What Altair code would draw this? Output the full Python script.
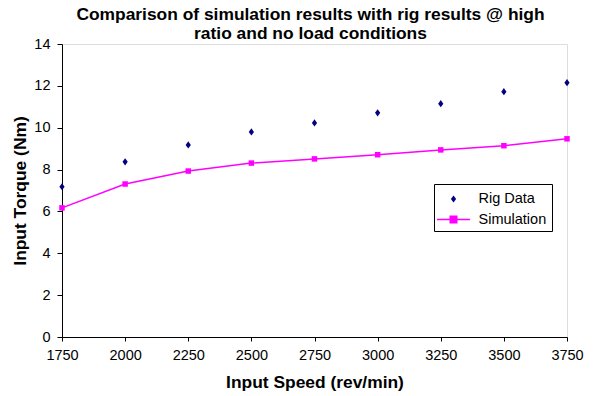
import altair as alt
import pandas as pd

speeds = [1750, 2000, 2250, 2500, 2750, 3000, 3250, 3500, 3750]
rig_torque = [7.18, 8.37, 9.18, 9.80, 10.23, 10.71, 11.15, 11.72, 12.15]
sim_torque = [6.17, 7.31, 7.93, 8.31, 8.51, 8.71, 8.94, 9.14, 9.47]
series_names = ["Rig Data", "Simulation"]
x_ticks = [1750, 2000, 2250, 2500, 2750, 3000, 3250, 3500, 3750]
y_ticks = [0, 2, 4, 6, 8, 10, 12, 14]

rows = []
for s, v in zip(speeds, rig_torque):
    rows.append({"speed": s, "torque": v, "series": series_names[0]})
for s, v in zip(speeds, sim_torque):
    rows.append({"speed": s, "torque": v, "series": series_names[1]})
df = pd.DataFrame(rows)

FONT = "Liberation Sans"
diamond_path = "M0,-0.36L0.26,0L0,0.36L-0.26,0Z"
sim_path = "M-1.65,-0.075H1.65V0.075H-1.65Z M-0.4,-0.4H0.4V0.4H-0.4Z"

legend = alt.Legend(
    title=None,
    orient="none",
    legendX=372,
    legendY=140,
    strokeColor="black",
    fillColor="white",
    padding=5,
    rowPadding=3.5,
    symbolSize=400,
    symbolOffset=4.5,
    symbolStrokeWidth=0,
    symbolOpacity=1,
    labelOffset=15,
    labelFont=FONT,
    labelFontSize=14.5,
    labelColor="black",
)

color_scale = alt.Scale(domain=series_names, range=["#000080", "#FF00FF"])
shape_scale = alt.Scale(domain=series_names, range=[diamond_path, sim_path])

axis_common = dict(
    grid=False,
    labelFlush=False,
    domainColor="black",
    tickColor="black",
    labelColor="black",
    titleColor="black",
    labelFont=FONT,
    labelFontSize=14.5,
    titleFont=FONT,
    titleFontSize=17.4,
    titleFontWeight="bold",
)

base = alt.Chart(df).encode(
    x=alt.X(
        "speed:Q",
        scale=alt.Scale(domain=[1750, 3750], nice=False, zero=False),
        axis=alt.Axis(
            values=x_ticks,
            title="Input Speed (rev/min)",
            tickSize=4,
            labelPadding=7,
            titlePadding=12,
            format="d",
            **axis_common,
        ),
    ),
    y=alt.Y(
        "torque:Q",
        scale=alt.Scale(domain=[0, 14], nice=False),
        axis=alt.Axis(
            values=y_ticks,
            title="Input Torque (Nm)",
            tickSize=5,
            labelPadding=7,
            titlePadding=4,
            **axis_common,
        ),
    ),
    color=alt.Color("series:N", scale=color_scale, legend=legend),
)

rig_layer = base.transform_filter(alt.datum.series == "Rig Data").mark_point(
    filled=True, size=400, opacity=1
).encode(shape=alt.Shape("series:N", scale=shape_scale, legend=legend))

sim_line = base.transform_filter(alt.datum.series == "Simulation").mark_line(
    strokeWidth=1.5
)
sim_pts = base.transform_filter(alt.datum.series == "Simulation").mark_point(
    filled=True, shape="square", size=30, opacity=1
)

chart = (
    alt.layer(rig_layer, sim_line, sim_pts)
    .properties(
        width=505,
        height=293,
        autosize=alt.AutoSizeParams(type="none"),
        padding={"left": 62, "top": 44, "right": 27, "bottom": 59},
        title=alt.Title(
            ["Comparison of simulation results with rig results @ high",
             "ratio and no load conditions"],
            font=FONT,
            fontSize=17.4,
            fontWeight="bold",
            color="black",
            offset=1,
            dx=-4,
            dy=7,
            lineHeight=19,
            anchor="middle",
        ),
    )
    .configure_view(stroke="#808080")
    .configure(background="white")
)

chart.save("out.html", embed_options={"renderer": "svg", "actions": False})
